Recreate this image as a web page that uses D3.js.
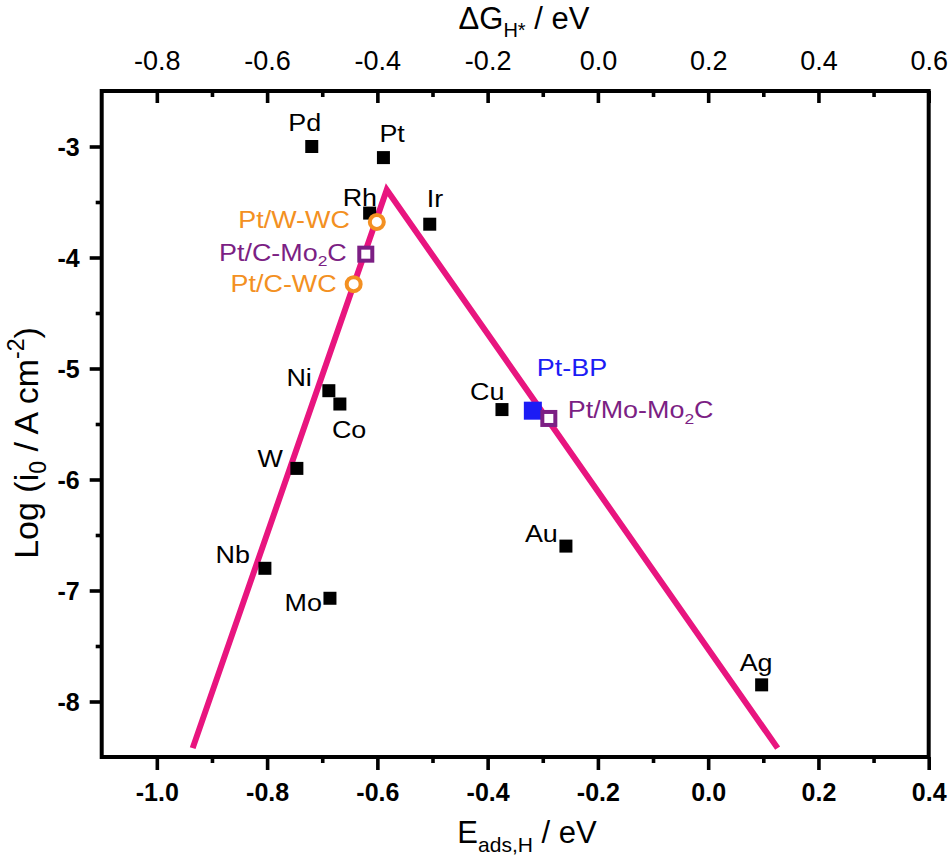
<!DOCTYPE html>
<html>
<head>
<meta charset="utf-8">
<script src="https://cdn.jsdelivr.net/npm/d3@7"></script>
<style>
  html, body { margin: 0; padding: 0; background: #fff; }
  text { font-family: "Liberation Sans", Arial, Helvetica, sans-serif; }
</style>
</head>
<body>
<svg id="chart" width="951" height="860"></svg>
<script>
// ---------- data ----------
const metalNames = ["Pd", "Pt", "Rh", "Ir", "Ni", "Co", "W", "Nb", "Mo", "Cu", "Au", "Ag"];
const metalEads  = [-0.719, -0.589, -0.614, -0.505, -0.688, -0.668, -0.746, -0.804, -0.686, -0.374, -0.258, 0.097];
const metalLogI0 = [-3.0, -3.1, -3.6, -3.7, -5.2, -5.32, -5.9, -6.8, -7.07, -5.37, -6.6, -7.85];

const catNames = ["Pt/W-WC", "Pt/C-Mo2C", "Pt/C-WC", "Pt-BP", "Pt/Mo-Mo2C"];
const catEads  = [-0.601, -0.621, -0.643, -0.318, -0.289];
const catLogI0 = [-3.68, -3.97, -4.24, -5.38, -5.45];

const volcanoEads  = [-0.935, -0.583, 0.126];
const volcanoLogI0 = [-8.42, -3.39, -8.42];

const xTicks    = [-1.0, -0.8, -0.6, -0.4, -0.2, 0.0, 0.2, 0.4];
const xMinor    = [-0.9, -0.7, -0.5, -0.3, -0.1, 0.1, 0.3];
const topTicks  = [-0.8, -0.6, -0.4, -0.2, 0.0, 0.2, 0.4, 0.6];
const topMinor  = [-0.7, -0.5, -0.3, -0.1, 0.1, 0.3, 0.5];
const yTicks    = [-8, -7, -6, -5, -4, -3];
const yMinor    = [-7.5, -6.5, -5.5, -4.5, -3.5];

// ---------- layout / style ----------
const metalLabelLayout = [ // [dx, dy, anchor]
  [-7, -16, "middle"], [-4, -16, "start"], [-27, -7, "start"], [-3, -17, "start"],
  [-17, -5, "end"], [-8, 34, "start"], [-14, -1, "end"], [-15, -5, "end"],
  [-8, 13, "end"], [-32, -10, "start"], [-41, -4, "start"], [-22, -14, "start"]
];
const catLabelLayout = [
  [-27, 6, "end"], [-19, 7, "end"], [-17, 8, "end"], [4, -35, "start"], [19, 0, "start"]
];
const orange = "#f39022", purple = "#7c1f84", blue = "#1c1cf5", magenta = "#e8157f";
const catMarker = ["circle", "openSquare", "circle", "filledSquare", "openSquare"];
const catColor  = [orange, purple, orange, blue, purple];

const L = 101.7, R = 928.7, T = 91, B = 757;
const svg = d3.select("#chart");

const x    = d3.scaleLinear().domain([-1.1, 0.4]).range([L, R]);
const xTop = d3.scaleLinear().domain([-0.9, 0.6]).range([L, R]);
const y    = d3.scaleLinear().domain([-8.5, -2.5]).range([B, T]);

const LABEL_SIZE = 23, LABEL_SX = 1.17;
const fmt1 = v => d3.format(".1f")(v).replace("\u2212", "-");
const fmt0 = v => d3.format("d")(v).replace("\u2212", "-");

function styledLabel(g, px, py, anchor, str, color, size, sx) {
  const t = g.append("text")
    .attr("transform", `translate(${px},${py}) scale(${sx},1)`)
    .attr("text-anchor", anchor)
    .attr("fill", color)
    .style("font-size", size + "px");
  const m = str.match(/^(.*Mo)2(C)$/);
  if (m) {
    t.append("tspan").text(m[1]);
    t.append("tspan").text("2").style("font-size", (size * 0.65) + "px").attr("dy", size * 0.22);
    t.append("tspan").text(m[2]).attr("dy", -size * 0.22);
  } else {
    t.text(str);
  }
  return t;
}

// ---------- axes ----------
const TW = 3.6;
function styleAxis(g) {
  g.select(".domain").remove();
  g.selectAll(".tick line").attr("stroke", "#000").attr("stroke-width", TW);
}

const gBottom = svg.append("g").attr("transform", `translate(0,${B})`)
  .call(d3.axisBottom(x).tickValues(xTicks).tickSize(13).tickFormat(fmt1));
styleAxis(gBottom);
gBottom.selectAll(".tick text").attr("y", 44).attr("dy", 0)
  .style("font-size", "25px").style("font-weight", "bold").attr("fill", "#000");
svg.append("g").attr("transform", `translate(0,${B})`)
  .call(d3.axisBottom(x).tickValues(xMinor).tickSize(6).tickFormat(""))
  .call(styleAxis);

const gTop = svg.append("g").attr("transform", `translate(0,${T})`)
  .call(d3.axisTop(xTop).tickValues(topTicks).tickSize(-12).tickFormat(fmt1));
styleAxis(gTop);
gTop.selectAll(".tick text").attr("y", -21).attr("dy", 0)
  .style("font-size", "27px").attr("fill", "#000");
svg.append("g").attr("transform", `translate(0,${T})`)
  .call(d3.axisTop(xTop).tickValues(topMinor).tickSize(-6).tickFormat(""))
  .call(styleAxis);

const gLeft = svg.append("g").attr("transform", `translate(${L},0)`)
  .call(d3.axisLeft(y).tickValues(yTicks).tickSize(12).tickPadding(10).tickFormat(fmt0));
styleAxis(gLeft);
gLeft.selectAll(".tick text").attr("dy", "0.36em")
  .style("font-size", "25px").style("font-weight", "bold").attr("fill", "#000");
svg.append("g").attr("transform", `translate(${L},0)`)
  .call(d3.axisLeft(y).tickValues(yMinor).tickSize(6).tickFormat(""))
  .call(styleAxis);

// frame
svg.append("rect").attr("x", L).attr("y", T).attr("width", R - L).attr("height", B - T)
  .attr("fill", "none").attr("stroke", "#000").attr("stroke-width", 4);

// ---------- titles ----------
const topTitle = svg.append("text").attr("x", 524).attr("y", 29).attr("text-anchor", "middle")
  .style("font-size", "31px").attr("fill", "#000");
topTitle.append("tspan").text("\u0394G");
topTitle.append("tspan").text("H*").style("font-size", "20px").attr("dy", 8);
topTitle.append("tspan").text(" / eV").attr("dy", -8);

const botTitle = svg.append("text").attr("x", 527).attr("y", 843).attr("text-anchor", "middle")
  .style("font-size", "31px").attr("fill", "#000");
botTitle.append("tspan").text("E");
botTitle.append("tspan").text("ads,H").style("font-size", "21px").attr("dy", 9);
botTitle.append("tspan").text(" / eV").attr("dy", -9);

const yTitle = svg.append("text").attr("transform", "translate(38,443) rotate(-90)")
  .attr("text-anchor", "middle").style("font-size", "34px").attr("fill", "#000");
yTitle.append("tspan").text("Log (i");
yTitle.append("tspan").text("0").style("font-size", "23px").attr("dy", 8);
yTitle.append("tspan").text(" / A cm").attr("dy", -8);
yTitle.append("tspan").text("-2").style("font-size", "23px").attr("dy", -14);
yTitle.append("tspan").text(")").attr("dy", 14);

// ---------- volcano line ----------
const volcano = volcanoEads.map((v, i) => [v, volcanoLogI0[i]]);
svg.append("path")
  .attr("d", d3.line().x(d => x(d[0])).y(d => y(d[1]))(volcano))
  .attr("fill", "none").attr("stroke", magenta).attr("stroke-width", 6)
  .attr("stroke-linejoin", "miter");

// ---------- metals ----------
const metals = metalNames.map((n, i) => ({ n, e: metalEads[i], v: metalLogI0[i], lay: metalLabelLayout[i] }));
const SQ = 13;
svg.append("g").selectAll("rect").data(metals).join("rect")
  .attr("x", d => x(d.e) - SQ / 2).attr("y", d => y(d.v) - SQ / 2)
  .attr("width", SQ).attr("height", SQ).attr("fill", "#000");

const gLab = svg.append("g");
metals.forEach(d => {
  styledLabel(gLab, x(d.e) + d.lay[0], y(d.v) + d.lay[1], d.lay[2], d.n, "#000", LABEL_SIZE, LABEL_SX);
});

// ---------- catalysts ----------
const cats = catNames.map((n, i) => ({ n, e: catEads[i], v: catLogI0[i], m: catMarker[i], c: catColor[i], lay: catLabelLayout[i] }));
const gCat = svg.append("g");
cats.forEach(d => {
  const cx = x(d.e), cy = y(d.v);
  if (d.m === "circle") {
    gCat.append("circle").attr("cx", cx).attr("cy", cy).attr("r", 7)
      .attr("fill", "#fff").attr("stroke", d.c).attr("stroke-width", 4);
  } else if (d.m === "openSquare") {
    gCat.append("rect").attr("x", cx - 6.5).attr("y", cy - 6.5).attr("width", 13).attr("height", 13)
      .attr("fill", "#fff").attr("stroke", d.c).attr("stroke-width", 4);
  } else {
    gCat.append("rect").attr("x", cx - 9).attr("y", cy - 9).attr("width", 18).attr("height", 18)
      .attr("fill", d.c);
  }
  styledLabel(gCat, cx + d.lay[0], cy + d.lay[1], d.lay[2], d.n, d.c, LABEL_SIZE, LABEL_SX);
});
</script>
</body>
</html>
